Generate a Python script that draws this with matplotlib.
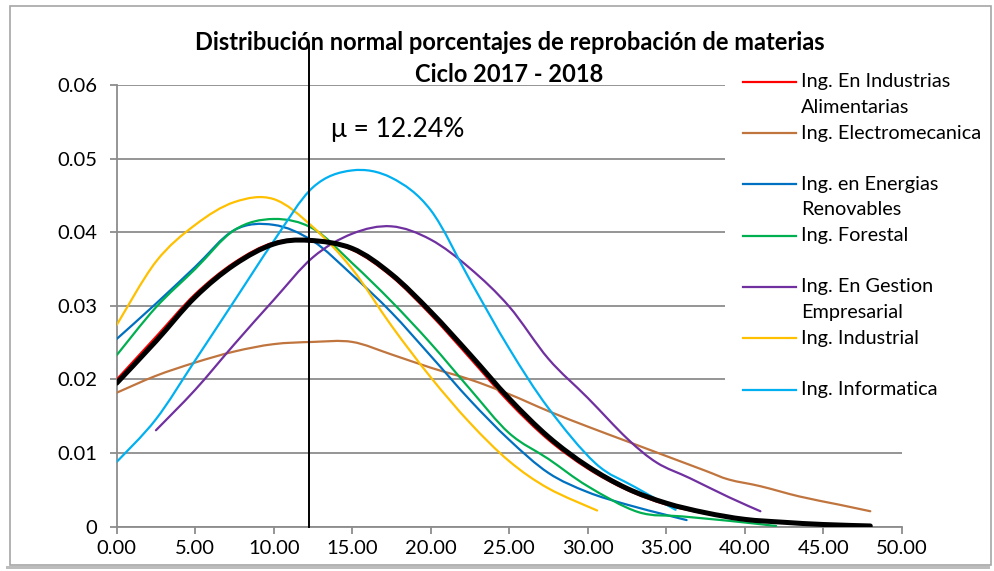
import matplotlib
matplotlib.use("Agg")
import matplotlib.pyplot as plt
from matplotlib.path import Path
from matplotlib.patches import PathPatch, Rectangle
from matplotlib.lines import Line2D

plt.rcParams['font.family'] = ['Lato', 'DejaVu Sans']

# ---------------- data ----------------
title_lines = ["Distribución normal porcentajes de reprobación de materias",
               "Ciclo 2017 - 2018"]
mu_value = 12.24
mu_label = "\u03bc = 12.24%"

x_ticks = [0, 5, 10, 15, 20, 25, 30, 35, 40, 45, 50]
x_tick_labels = ["0.00", "5.00", "10.00", "15.00", "20.00", "25.00",
                 "30.00", "35.00", "40.00", "45.00", "50.00"]
y_ticks = [0, 0.01, 0.02, 0.03, 0.04, 0.05, 0.06]
y_tick_labels = ["0", "0.01", "0.02", "0.03", "0.04", "0.05", "0.06"]

x_alim = [0, 2.5, 5, 7.5, 10, 12.5, 15, 17.5, 20, 22.5, 25, 27.5, 30, 32.5, 35, 37.5, 40]
y_alim = [0.0200, 0.0258, 0.0316, 0.0359, 0.0386, 0.0389, 0.0376, 0.0340, 0.0288,
          0.0229, 0.0169, 0.0118, 0.0079, 0.0050, 0.0030, 0.0018, 0.0010]

x_elec = [0, 2.5, 5, 7.5, 10, 12.5, 15, 17.5, 20, 22.5, 25, 27.5, 30, 32.5,
          35, 37.5, 39, 41, 43.5, 46, 48]
y_elec = [0.0182, 0.0205, 0.0223, 0.0238, 0.0248, 0.0251, 0.0251, 0.0234,
          0.0216, 0.0200, 0.0180, 0.0157, 0.0136, 0.0116, 0.0096, 0.0076, 0.0064,
          0.0055, 0.0041, 0.0030, 0.0021]

x_ener = [0, 2.5, 5, 7.5, 10, 12.5, 15, 17.5, 20, 22.5, 25, 27.5, 30, 32.5, 35, 36.3]
y_ener = [0.0255, 0.0303, 0.0353, 0.0403, 0.0410, 0.0388, 0.0342, 0.0291, 0.0232,
          0.0172, 0.0118, 0.0073, 0.0047, 0.0030, 0.0016, 0.0009]

x_fore = [0, 2.5, 5, 7.5, 10, 12.5, 15, 17.5, 20, 22.5, 25, 27.5, 30, 33.2, 36, 39, 42]
y_fore = [0.0233, 0.0298, 0.0350, 0.0403, 0.0418, 0.0405, 0.0358, 0.0306, 0.0249,
          0.0187, 0.0127, 0.0092, 0.0055, 0.0020, 0.0014, 0.0008, 0.0001]

x_gest = [2.5, 5, 7.5, 10, 12.5, 15, 17.5, 20, 22.5, 25, 27.5, 30, 32.5, 34.4, 36.5, 39, 41]
y_gest = [0.0131, 0.0186, 0.0248, 0.0308, 0.0366, 0.0398, 0.0408, 0.0390, 0.0351,
          0.0299, 0.0228, 0.0175, 0.0120, 0.0087, 0.0066, 0.0040, 0.0021]

x_ind = [0, 2.5, 5, 7.5, 10, 12.5, 15, 17.5, 20, 22.5, 25, 27.5, 30.6]
y_ind = [0.0274, 0.0360, 0.0410, 0.0441, 0.0445, 0.0407, 0.0350, 0.0273, 0.0203,
         0.0141, 0.0089, 0.0052, 0.0022]

x_info = [0, 2.5, 5, 7.5, 10, 12.5, 15, 17.5, 20, 22.5, 25, 27.5, 30.5, 33, 35.6]
y_info = [0.0088, 0.0146, 0.0226, 0.0307, 0.0388, 0.0461, 0.0484, 0.0474, 0.0430,
          0.0335, 0.0242, 0.0161, 0.0086, 0.0054, 0.0023]

x_prom = [0, 2.5, 5, 7.5, 10, 12.24, 15, 17.5, 20, 22.5, 25, 27.5, 30, 32.5, 35,
          37.5, 40, 42.5, 45, 48]
y_prom = [0.0195, 0.0252, 0.0312, 0.0356, 0.0384, 0.0389, 0.0378, 0.0343, 0.0292,
          0.0234, 0.0174, 0.0122, 0.0082, 0.0052, 0.0032, 0.0019, 0.0010, 0.0006,
          0.0003, 0.0001]

series_labels = ["Ing. En Industrias\nAlimentarias", "Ing. Electromecanica",
                 "Ing. en Energias\nRenovables", "Ing. Forestal",
                 "Ing. En Gestion\nEmpresarial", "Ing. Industrial", "Ing. Informatica"]
series_colors = ["#FF0000", "#C0753F", "#0070C0", "#00B050", "#7030A0",
                 "#FFC000", "#00B0F0"]
series_x = [x_alim, x_elec, x_ener, x_fore, x_gest, x_ind, x_info]
series_y = [y_alim, y_elec, y_ener, y_fore, y_gest, y_ind, y_info]

# ---------------- figure ----------------
W, H = 995, 571
fig = plt.figure(figsize=(W / 100, H / 100), dpi=100)
fig.patch.set_facecolor("white")


def fx(px):
    return px / W


def fy(py):
    return 1 - py / H


# outer chart frame with shadow
fig.patches.append(Rectangle((fx(6), fy(569)), fx(990) - fx(6), fy(9) - fy(12),
                             transform=fig.transFigure, facecolor="#bdbdbd",
                             edgecolor="none", zorder=-10))
fig.patches.append(Rectangle((fx(10), fy(565)), fx(991) - fx(10), fy(6) - fy(565),
                             transform=fig.transFigure, facecolor="white",
                             edgecolor="#a6a6a6", lw=1.2, zorder=-9))

ax = fig.add_axes([fx(116.7), fy(526.7), fx(901.7) - fx(116.7), fy(85) - fy(526.7)])
ax.set_facecolor("none")
ax.set_xlim(0, 50)
ax.set_ylim(0, 0.06)

grid_c = "#8c8c8c"
for s in ["top", "right"]:
    ax.spines[s].set_visible(False)
for s in ["left", "bottom"]:
    ax.spines[s].set_color(grid_c)
    ax.spines[s].set_linewidth(1.3)

ax.set_xticks(x_ticks)
ax.set_xticklabels(x_tick_labels)
ax.set_yticks(y_ticks)
ax.set_yticklabels(y_tick_labels)
ax.tick_params(axis="both", colors=grid_c, length=4.8, width=1.3,
               labelcolor="black", labelsize=14.5)
ax.tick_params(axis="y", pad=9)
ax.tick_params(axis="x", pad=5)
ax.yaxis.grid(True, color=grid_c, lw=1.3)
ax.set_axisbelow(True)


def smooth_path(xs, ys):
    pts = list(zip(xs, ys))
    n = len(pts)
    verts = [pts[0]]
    codes = [Path.MOVETO]
    for i in range(n - 1):
        p0 = pts[i - 1] if i > 0 else pts[i]
        p1 = pts[i]
        p2 = pts[i + 1]
        p3 = pts[i + 2] if i + 2 < n else pts[i + 1]
        c1 = (p1[0] + (p2[0] - p0[0]) / 6, p1[1] + (p2[1] - p0[1]) / 6)
        c2 = (p2[0] - (p3[0] - p1[0]) / 6, p2[1] - (p3[1] - p1[1]) / 6)
        verts += [c1, c2, p2]
        codes += [Path.CURVE4] * 3
    return Path(verts, codes)


for xs, ys, c in zip(series_x, series_y, series_colors):
    ax.add_patch(PathPatch(smooth_path(xs, ys), facecolor="none", edgecolor=c,
                           lw=1.6, capstyle="round", zorder=3))

ax.add_patch(PathPatch(smooth_path(x_prom, y_prom), facecolor="none",
                       edgecolor="black", lw=3.6, capstyle="round", zorder=4))

# mean line
ax.plot([mu_value, mu_value], [0, 0.0655], color="black", lw=1.4,
        clip_on=False, zorder=5)
ax.text(13.65, 0.0540, mu_label, fontsize=19, va="center", ha="left",
        zorder=6)

# title
fig.text(0.512, fy(43), title_lines[0], ha="center", va="center",
         fontsize=17, fontweight="bold")
fig.text(0.512, fy(75), title_lines[1], ha="center", va="center",
         fontsize=17, fontweight="bold")

# legend (white box covering gridlines)
fig.patches.append(Rectangle((fx(725), fy(410)), fx(988) - fx(725), fy(66) - fy(410),
                             transform=fig.transFigure, facecolor="white",
                             edgecolor="none", zorder=5))
entry_y0 = 81.7
entry_step = 51.3
line_step = 25.5
for i, (lab, c) in enumerate(zip(series_labels, series_colors)):
    yy = entry_y0 + i * entry_step
    fig.lines.append(Line2D([fx(743), fx(796)], [fy(yy), fy(yy)],
                            transform=fig.transFigure, color=c, lw=1.6, zorder=6))
    for k, part in enumerate(lab.split("\n")):
        fig.text(fx(801), fy(yy + k * line_step), part, ha="left", va="center",
                 fontsize=14.3, zorder=7)

fig.savefig("out.png", dpi=100)
